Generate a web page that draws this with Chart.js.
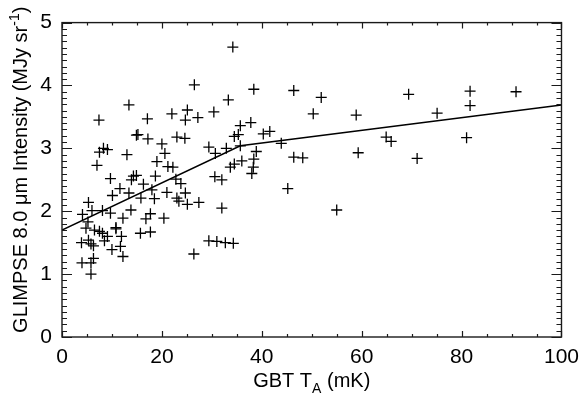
<!DOCTYPE html>
<html>
<head>
<meta charset="utf-8">
<script src="https://cdn.jsdelivr.net/npm/chart.js@4.4.1/dist/chart.umd.min.js"></script>
<style>
html, body { margin: 0; padding: 0; background: #fff; }
#wrap { width: 587px; height: 394px; }
</style>
</head>
<body>
<div id="wrap"><canvas id="plot" width="587" height="394"></canvas></div>
<script>
"use strict";

// GBT antenna temperature (mK) vs GLIMPSE 8.0 um intensity (MJy/sr)
var gbt_ta = [
    46.4, 51.9, 69.4, 50.3, 58.9, 40.3, 41.6, 43.9, 46.4, 48.2, 64.9, 65.9, 59.3, 71.1, 45.2, 55.0, 81.7, 90.9, 81.7, 75.1, 81.0,
    34.2, 26.5, 38.4, 33.3, 25.1, 30.4, 22.0, 24.7, 27.2, 35.7, 37.8, 34.5, 35.3, 23.0, 24.6, 29.4, 30.7, 32.9, 35.7, 38.9,
    38.4, 36.0, 34.5, 33.7, 38.3, 38.0, 22.8, 23.8, 30.6, 32.0, 24.7, 23.0, 23.4, 25.1, 27.4, 32.0, 26.4, 29.4, 31.0, 32.7, 34.3,
    13.4, 7.4, 17.1, 14.9, 15.2, 17.2, 20.0, 7.5, 9.1, 8.3, 13.0, 7.0, 20.6, 19.0, 21.2, 22.2, 9.7, 14.3, 14.9, 13.9,
    16.3, 18.7, 11.6, 10.1, 13.4, 15.8, 18.0, 18.5, 21.0, 5.3, 4.1, 6.0, 8.1, 9.7, 13.8, 12.2, 16.8, 17.7, 20.4, 5.2,
    4.8, 6.5, 7.5, 10.8, 10.8, 8.5, 9.1, 8.1, 11.9, 3.9, 5.3, 5.8, 6.3, 10.0, 11.7, 12.2, 15.7, 17.7, 4.0, 5.8, 6.3, 5.8
];
var glimpse_i = [
    3.92, 3.81, 3.86, 3.55, 3.53, 3.23, 3.27, 3.08, 2.86, 2.85, 3.18, 3.11, 2.93, 2.84, 2.36, 2.02, 3.91, 3.90, 3.68, 3.56, 3.17,
    4.61, 4.01, 3.94, 3.77, 3.61, 3.58, 3.55, 3.45, 3.49, 3.36, 3.41, 3.19, 3.22, 3.18, 3.16, 3.02, 2.92, 3.00, 3.04, 2.95,
    2.83, 2.80, 2.75, 2.70, 2.70, 2.60, 2.51, 2.44, 2.55, 2.50, 2.29, 2.21, 2.16, 2.11, 2.14, 2.05, 1.32, 1.53, 1.52, 1.50, 1.49,
    3.69, 3.45, 3.47, 3.21, 3.22, 3.15, 3.07, 2.94, 2.98, 3.00, 2.90, 2.73, 2.92, 2.79, 2.71, 2.70, 2.52, 2.56, 2.57, 2.50,
    2.43, 2.56, 2.36, 2.25, 2.29, 2.21, 2.34, 2.20, 2.30, 2.14, 1.95, 2.01, 2.01, 1.97, 2.02, 1.89, 1.88, 1.96, 1.89, 1.83,
    1.73, 1.70, 1.68, 1.74, 1.72, 1.53, 1.60, 1.65, 1.60, 1.50, 1.54, 1.48, 1.45, 1.39, 1.44, 1.28, 1.65, 1.67, 1.18, 1.18, 1.25, 1.00
];

// broken-line fit
var fit_ta = [0, 35.7, 100];
var fit_i = [1.70, 3.04, 3.69];

var x_ticks = [0, 20, 40, 60, 80, 100];
var y_ticks = [0, 1, 2, 3, 4, 5];

var x_title = [{t: "GBT T"}, {t: "A", sub: true}, {t: " (mK)"}];
var y_title = [{t: "GLIMPSE 8.0 \u03bcm Intensity (MJy sr"}, {t: "-1", sup: true}, {t: ")"}];

var font_family = "'Liberation Sans', Arial, Helvetica, sans-serif";
var font_size = 20;
var tick_size = 21;
var ink = "#000";

function to_points(xs, ys) {
    var pts = [];
    xs.forEach(function(x, i) {
        pts.push({x: x, y: ys[i]});
    });
    return pts;
}

function rich_width(ctx, parts, size) {
    var w = 0;
    parts.forEach(function(p) {
        var s = (p.sub || p.sup) ? Math.round(size * 0.68) : size;
        ctx.font = s + "px " + font_family;
        w += ctx.measureText(p.t).width;
    });
    return w;
}

function draw_rich(ctx, parts, size, x, y) {
    var cx = x;
    parts.forEach(function(p) {
        var s = size;
        var dy = 0;
        if (p.sub) { s = Math.round(size * 0.68); dy = size * 0.28; }
        if (p.sup) { s = Math.round(size * 0.68); dy = -size * 0.42; }
        ctx.font = s + "px " + font_family;
        ctx.fillText(p.t, cx, y + dy);
        cx += ctx.measureText(p.t).width;
    });
}

// IDL-like frame: box with inward ticks on all four sides, plus axis titles
var frame_plugin = {
    id: "frame_ticks",
    afterDraw: function(chart) {
        var ctx = chart.ctx;
        var a = chart.chartArea;
        var xs = chart.scales.x;
        var ys = chart.scales.y;
        var v, px, py, len;

        ctx.save();
        ctx.strokeStyle = "#1a1a1a";
        ctx.lineWidth = 1.4;
        ctx.strokeRect(a.left, a.top, a.right - a.left, a.bottom - a.top);

        ctx.lineWidth = 1.2;
        ctx.beginPath();
        for (v = 0; v <= 100.001; v += 5) {
            px = Math.round(xs.getPixelForValue(v)) + 0.5;
            len = (Math.round(v) % 20 === 0) ? 6 : 3;
            ctx.moveTo(px, a.bottom);
            ctx.lineTo(px, a.bottom - len);
            ctx.moveTo(px, a.top);
            ctx.lineTo(px, a.top + len);
        }
        for (v = 0; v <= 50; v += 1) {
            py = Math.round(ys.getPixelForValue(v / 10)) + 0.5;
            len = (v % 10 === 0) ? 10 : 5;
            ctx.moveTo(a.left, py);
            ctx.lineTo(a.left + len, py);
            ctx.moveTo(a.right, py);
            ctx.lineTo(a.right - len, py);
        }
        ctx.stroke();

        ctx.fillStyle = ink;
        ctx.textBaseline = "alphabetic";
        ctx.textAlign = "left";
        var w = rich_width(ctx, x_title, font_size);
        draw_rich(ctx, x_title, font_size, (a.left + a.right) / 2 - w / 2, 387);

        ctx.translate(27, (a.top + a.bottom) / 2 - 10);
        ctx.rotate(-Math.PI / 2);
        w = rich_width(ctx, y_title, font_size);
        draw_rich(ctx, y_title, font_size, -w / 2, 0);
        ctx.restore();
    }
};

function init_chart() {
    var chart_context = document.getElementById("plot").getContext("2d");
    return new Chart(chart_context, {
        type: "scatter",
        data: {
            datasets: [{
                label: "GBT vs GLIMPSE",
                data: to_points(gbt_ta, glimpse_i),
                pointStyle: "cross",
                pointRadius: 5.5,
                pointBorderWidth: 1.3,
                borderColor: ink,
                backgroundColor: ink
            }, {
                type: "line",
                label: "fit",
                data: to_points(fit_ta, fit_i),
                borderColor: ink,
                borderWidth: 1.5,
                pointRadius: 0,
                fill: false,
                tension: 0
            }]
        },
        options: {
            responsive: false,
            animation: false,
            layout: {padding: {left: 0, right: 21, top: 9, bottom: 0}},
            plugins: {
                legend: {display: false},
                tooltip: {enabled: false}
            },
            scales: {
                x: {
                    type: "linear",
                    min: 0,
                    max: 100,
                    afterBuildTicks: function(scale) {
                        scale.ticks = x_ticks.map(function(v) { return {value: v}; });
                    },
                    afterFit: function(scale) { scale.height = 57; },
                    grid: {display: false, drawTicks: false},
                    border: {display: false},
                    ticks: {
                        padding: 8,
                        color: ink,
                        maxRotation: 0,
                        font: {family: font_family, size: tick_size}
                    }
                },
                y: {
                    type: "linear",
                    min: 0,
                    max: 5,
                    afterBuildTicks: function(scale) {
                        scale.ticks = y_ticks.map(function(v) { return {value: v}; });
                    },
                    afterFit: function(scale) { scale.width = 62; },
                    grid: {display: false, drawTicks: false},
                    border: {display: false},
                    ticks: {
                        padding: 10,
                        color: ink,
                        font: {family: font_family, size: tick_size}
                    }
                }
            }
        },
        plugins: [frame_plugin]
    });
}

var chart = init_chart();
</script>
</body>
</html>
